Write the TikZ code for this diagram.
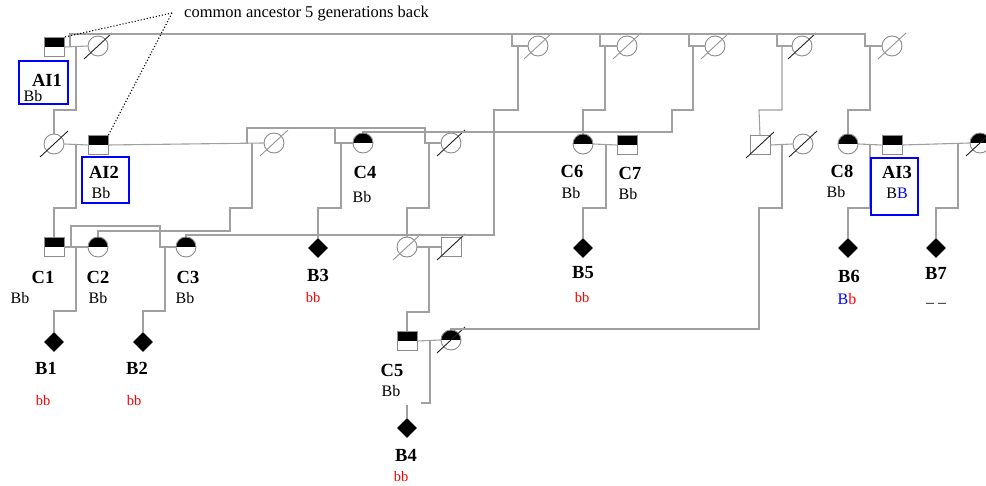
\documentclass[tikz,border=0pt]{standalone}
\usepackage{fontspec}
\setmainfont{Liberation Serif}
\usetikzlibrary{shapes.geometric}
\definecolor{linegray}{RGB}{160,160,160}
\definecolor{rimgray}{RGB}{140,140,140}
\definecolor{darkslash}{RGB}{35,35,35}
\definecolor{lightslash}{RGB}{150,150,150}

\tikzset{
  ln/.style={draw=linegray, line width=1.1pt},
  male/.style={rectangle, draw=rimgray, line width=0.9pt, minimum width=20pt, minimum height=19pt, inner sep=0pt},
  female/.style={circle, draw=rimgray, line width=0.9pt, minimum size=20pt, inner sep=0pt},
  carrier/.style={path picture={\fill[black] (path picture bounding box.north west) rectangle (path picture bounding box.east);}},
  affected/.style={diamond, fill=black, minimum width=20pt, minimum height=20pt, inner sep=0pt, aspect=1},
  idbox/.style={rectangle, draw=blue, line width=1.3pt, inner sep=0pt},
  tag/.style={font=\fontsize{18.5}{18.5}\selectfont\bfseries, inner sep=0pt},
  geno/.style={font=\fontsize{16}{16}\selectfont, inner sep=0pt},
  sick/.style={font=\fontsize{14.5}{14.5}\selectfont, text=red, inner sep=0pt},
  deadD/.style={draw=darkslash, line width=0.9pt},
  deadL/.style={draw=lightslash, line width=0.9pt},
}
\newcommand\deceased[2]{\draw[#1] ([shift={(-14,13)}]#2.center) -- ([shift={(14,-13)}]#2.center);}

\begin{document}
\begin{tikzpicture}[x=1pt, y=-1pt]
\fill[white] (0,0) rectangle (986,486);
\useasboundingbox (0,0) rectangle (986,486);

% ---------- generation I ----------
\node[male, carrier] (ai1) at (54,47) {};
\node[female] (g1a) at (98,46) {};
\node[female] (g1b) at (538,46) {};
\node[female] (g1c) at (627,46) {};
\node[female] (g1d) at (715,46) {};
\node[female] (g1e) at (802,46) {};
\node[female] (g1f) at (892,46) {};

% ---------- generation II ----------
\node[female] (d1) at (54,144) {};
\node[male, carrier] (ai2) at (98,145) {};
\node[female] (w2) at (274,143) {};
\node[female, carrier] (c4) at (363,143) {};
\node[female] (g2a) at (451,143) {};
\node[female, carrier] (c6) at (583,144) {};
\node[male, carrier] (c7) at (627,145) {};
\node[male] (s2) at (760,145) {};
\node[female] (g2b) at (803,144) {};
\node[female, carrier] (c8) at (848,144) {};
\node[male, carrier] (ai3) at (892,145) {};
\node[female, carrier] (g2c) at (980,143) {};

% ---------- generation III ----------
\node[male, carrier] (c1) at (54,247) {};
\node[female, carrier] (c2) at (98,247) {};
\node[female, carrier] (c3) at (186,247) {};
\node[affected] (b3) at (318,248) {};
\node[female] (g3a) at (407,247) {};
\node[male] (g3b) at (451,247) {};
\node[affected] (b5) at (583,248) {};
\node[affected] (b6) at (848,248) {};
\node[affected] (b7) at (936,248) {};

% ---------- generation IV ----------
\node[affected] (b1) at (54,342) {};
\node[affected] (b2) at (143,342) {};
\node[male, carrier] (c5) at (407,341) {};
\node[female, carrier] (g4a) at (451,340) {};
\node[affected] (b4) at (407,428) {};

% ---------- slashes for deceased ----------
\deceased{deadD}{g1a}
\deceased{deadL}{g1b}
\deceased{deadL}{g1c}
\deceased{deadL}{g1d}
\deceased{deadD}{g1e}
\deceased{deadL}{g1f}
\deceased{deadD}{d1}
\deceased{deadL}{w2}
\deceased{deadD}{g2a}
\deceased{deadD}{s2}
\deceased{deadD}{g2b}
\deceased{deadD}{g2c}
\deceased{deadL}{g3a}
\deceased{deadD}{g3b}
\deceased{deadD}{g4a}

% ---------- sibship line of generation I ----------
\draw[ln] (ai1.east) -- (g1a.west);
\draw[ln] (70,46) -- (70,34) -- (865,34) |- (g1f.west);
\draw[ln] (512,34) |- (g1b.west);
\draw[ln] (600,34) |- (g1c.west);
\draw[ln] (689,34) |- (g1d.west);
\draw[ln] (777,34) |- (g1e.west);

% ---------- descent lines from generation I ----------
\draw[ln] (76,46) |- (54,110) -- (d1.north);
\draw[ln] (518,46) |- (494,110) -- (494,235) -| (c3.north);
\draw[ln] (605,46) |- (583,110) -- (c6.north);
\draw[ln] (693,46) |- (672,110) |- (363,132) -- (c4.north);
\draw[ln] (782,46) |- (759,110) -- (s2.north);
\draw[ln] (870,46) |- (848,110) -- (c8.north);

% ---------- generation II couples ----------
\draw[ln] (d1.east) -- (ai2.west);
\draw[ln] (ai2.east) -- (w2.west);
\draw[ln] (247,144) |- (425,128) |- (g2a.west);
\draw[ln] (335,128) |- (c4.west);
\draw[ln] (c6.east) -- (c7.west);
\draw[ln] (s2.east) -- (g2b.west);
\draw[ln] (c8.east) -- (ai3.west);
\draw[ln] (ai3.east) -- (g2c.west);

% ---------- descent lines from generation II ----------
\draw[ln] (76,144) |- (54,208) -- (c1.north);
\draw[ln] (252,143) |- (230,208) |- (98,231) -- (c2.north);
\draw[ln] (341,143) |- (318,208) -- (b3.north);
\draw[ln] (429,143) |- (407,208) -- (g3a.north);
\draw[ln] (606,144) |- (583,208) -- (b5.north);
\draw[ln] (782,144) |- (759,208) |- (451,329) -- (g4a.north);
\draw[ln] (870,144) |- (848,208) -- (b6.north);
\draw[ln] (958,144) |- (936,208) -- (b7.north);

% ---------- generation III couples and their children ----------
\draw[ln] (c1.east) -- (c2.west);
\draw[ln] (71,247) |- (160,226) |- (c3.west);
\draw[ln] (76,247) |- (54,311) -- (b1.north);
\draw[ln] (165,247) |- (143,311) -- (b2.north);
\draw[ln] (g3a.east) -- (g3b.west);
\draw[ln] (429,247) |- (407,312) -- (c5.north);

% ---------- generation IV ----------
\draw[ln] (c5.east) -- (g4a.west);
\draw[ln] (430,340) -- (430,403) -- (421,403);
\draw[ln] (407,405) -- (b4.north);

% ---------- note on the common ancestor ----------
\coordinate (tip) at (172,13);
\node[anchor=west, font=\fontsize{16.5}{16.5}\selectfont, inner sep=0pt] (note) at (184,14) {common ancestor 5 generations back};
\draw[dotted, line width=1.1pt] (tip) -- (ai1.north east);
\draw[dotted, line width=1.1pt] (tip) -- (ai2.north east);

% ---------- boxes of the index persons ----------
\node[idbox, minimum width=49pt, minimum height=43pt] (box1) at (43.5,82.5) {};
\node[idbox, minimum width=47pt, minimum height=46pt] (box2) at (105.5,180) {};
\node[idbox, minimum width=47pt, minimum height=57pt] (box3) at (894.5,186.5) {};

% ---------- labels ----------
\node[tag] (l-ai1) at (47,80) {AI1};
\node[geno] (x-ai1) at (33,96) {Bb};
\node[tag] (l-ai2) at (104,172) {AI2};
\node[geno] (x-ai2) at (101,193) {Bb};
\node[tag] (l-ai3) at (897,172) {AI3};
\node[geno] (x-ai3) at (897,193) {B\textcolor{blue}{B}};

\node[tag] (l-c1) at (43,277) {C1};
\node[geno] (x-c1) at (20,298) {Bb};
\node[tag] (l-c2) at (98,277) {C2};
\node[geno] (x-c2) at (98,298) {Bb};
\node[tag] (l-c3) at (188,277) {C3};
\node[geno] (x-c3) at (185,298) {Bb};
\node[tag] (l-c4) at (365,172) {C4};
\node[geno] (x-c4) at (362,197) {Bb};
\node[tag] (l-c5) at (392,370) {C5};
\node[geno] (x-c5) at (391,391) {Bb};
\node[tag] (l-c6) at (572,171) {C6};
\node[geno] (x-c6) at (571,193) {Bb};
\node[tag] (l-c7) at (630,173) {C7};
\node[geno] (x-c7) at (628,194) {Bb};
\node[tag] (l-c8) at (842,171) {C8};
\node[geno] (x-c8) at (836,192) {Bb};

\node[tag] (l-b1) at (46,368) {B1};
\node[sick] (x-b1) at (43,401) {bb};
\node[tag] (l-b2) at (137,368) {B2};
\node[sick] (x-b2) at (134,401) {bb};
\node[tag] (l-b3) at (318,275) {B3};
\node[sick] (x-b3) at (313,298) {bb};
\node[tag] (l-b4) at (406,455) {B4};
\node[sick] (x-b4) at (401,477) {bb};
\node[tag] (l-b5) at (583,273) {B5};
\node[sick] (x-b5) at (582,298) {bb};
\node[tag] (l-b6) at (849,276) {B6};
\node[geno] (x-b6) at (847,299) {\textcolor{blue}{B}\textcolor{red}{b}};
\node[tag] (l-b7) at (936,273) {B7};
\node[geno] (x-b7) at (936,305) {– –};
\end{tikzpicture}
\end{document}
